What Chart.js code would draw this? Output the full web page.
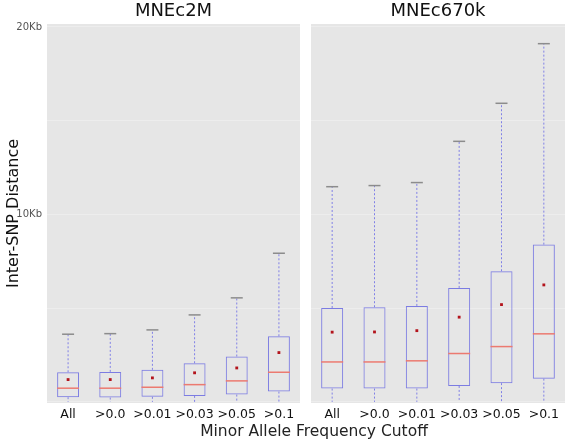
<!DOCTYPE html>
<html>
<head>
<meta charset="utf-8">
<script src="https://cdn.jsdelivr.net/npm/chart.js@4/dist/chart.umd.min.js"></script>
<style>
  body { margin: 0; background: #fff; width: 567px; height: 443px; overflow: hidden; position: relative; }
  .wrap { position: absolute; top: 0; height: 443px; }
  #xTitle { position: absolute; left: 0; width: 628px; top: 422px; text-align: center;
            font-family: "DejaVu Sans", sans-serif; font-size: 15.5px; color: #222; }
</style>
</head>
<body>
<div class="wrap" style="left:0;width:300px"><canvas id="leftChart" width="300" height="443"></canvas></div>
<div class="wrap" style="left:311px;width:254px"><canvas id="rightChart" width="254" height="443"></canvas></div>
<div id="xTitle">Minor Allele Frequency Cutoff</div>
<script>
// categories (MAF cutoff)
const categories = ['All', '>0.0', '>0.01', '>0.03', '>0.05', '>0.1'];
const yTicks = [0, 5000, 10000, 15000, 20000];

// MNEc2M box stats (bp)
const c2mMin    = [0, 0, 0, 0, 0, 0];
const c2mQ1     = [250, 230, 270, 320, 390, 550];
const c2mMedian = [730, 730, 780, 920, 1120, 1580];
const c2mQ3     = [1580, 1600, 1710, 2060, 2420, 3500];
const c2mMax    = [3610, 3640, 3840, 4640, 5550, 7930];
const c2mMean   = [1190, 1190, 1280, 1550, 1810, 2630];

// MNEc670k box stats (bp)
const k670Min    = [0, 0, 0, 0, 0, 0];
const k670Q1     = [710, 710, 710, 850, 1000, 1240];
const k670Median = [2130, 2130, 2190, 2580, 2950, 3630];
const k670Q3     = [5010, 5050, 5120, 6080, 6970, 8390];
const k670Max    = [11480, 11540, 11700, 13900, 15930, 19110];
const k670Mean   = [3720, 3730, 3800, 4520, 5190, 6240];

const FONT = '"DejaVu Sans", sans-serif';

// grey panel background
const panelBg = {
    id: 'panelBg',
    beforeDraw(chart) {
        const a = chart.chartArea, ctx = chart.ctx;
        ctx.save();
        ctx.fillStyle = '#e6e6e6';
        ctx.fillRect(a.left, a.top, a.right - a.left, a.bottom - a.top);
        ctx.restore();
    }
};

// whiskers, caps and medians drawn through the scales
function boxExtras(stats) {
    return {
        id: 'boxExtras',
        afterDatasetsDraw(chart) {
            const ctx = chart.ctx, xs = chart.scales.x, ys = chart.scales.y;
            ctx.save();
            stats.q1.forEach((q1, i) => {
                const x = xs.getPixelForValue(i);
                const bar = chart.getDatasetMeta(0).data[i];
                const half = bar.width / 2;
                // dashed whiskers
                ctx.strokeStyle = '#8080e6';
                ctx.lineWidth = 1;
                ctx.setLineDash([2, 2]);
                ctx.beginPath();
                ctx.moveTo(x, ys.getPixelForValue(stats.q3[i]));
                ctx.lineTo(x, ys.getPixelForValue(stats.max[i]));
                ctx.moveTo(x, ys.getPixelForValue(q1));
                ctx.lineTo(x, ys.getPixelForValue(stats.min[i]));
                ctx.stroke();
                ctx.setLineDash([]);
                // cap
                ctx.strokeStyle = '#8c8c8c';
                ctx.lineWidth = 1.5;
                const yc = ys.getPixelForValue(stats.max[i]);
                ctx.beginPath();
                ctx.moveTo(x - 6, yc);
                ctx.lineTo(x + 6, yc);
                ctx.stroke();
                // median
                ctx.strokeStyle = '#ec7a70';
                ctx.lineWidth = 1.5;
                const ym = ys.getPixelForValue(stats.median[i]);
                ctx.beginPath();
                ctx.moveTo(x - half, ym);
                ctx.lineTo(x + half, ym);
                ctx.stroke();
            });
            ctx.restore();
        }
    };
}

function makeChart(id, title, stats, showAxis) {
    const ctx = document.getElementById(id).getContext('2d');
    return new Chart(ctx, {
        type: 'bar',
        data: {
            labels: categories,
            datasets: [
                {
                    data: stats.q1.map((v, i) => [v, stats.q3[i]]),
                    backgroundColor: 'rgba(0,0,0,0)',
                    borderColor: '#7c7ce2',
                    borderWidth: 1,
                    borderSkipped: false,
                    barPercentage: 0.52,
                    categoryPercentage: 1
                },
                {
                    type: 'line',
                    data: stats.mean,
                    showLine: false,
                    pointStyle: 'rect',
                    pointRadius: 2,
                    pointBackgroundColor: '#b3141c',
                    pointBorderWidth: 0
                }
            ]
        },
        options: {
            responsive: false,
            animation: false,
            layout: { padding: 0, autoPadding: false },
            plugins: {
                legend: { display: false },
                tooltip: { enabled: false },
                title: {
                    display: true,
                    text: title,
                    fullSize: false,
                    color: '#111',
                    font: { family: FONT, size: 18, weight: 'normal', lineHeight: 1.2 },
                    padding: { top: 1, bottom: 1.4 }
                }
            },
            scales: {
                x: {
                    grid: { display: false, drawTicks: false },
                    border: { display: false },
                    ticks: {
                        color: '#111',
                        font: { family: FONT, size: 12.5 },
                        padding: 4,
                        maxRotation: 0,
                        minRotation: 0,
                        autoSkip: false
                    },
                    afterFit(scale) {
                        scale.height = 40;
                        scale.paddingLeft = 0;
                        scale.paddingRight = 0;
                    }
                },
                y: {
                    min: -60,
                    max: 20160,
                    border: { display: false },
                    grid: {
                        drawTicks: false,
                        color: 'rgba(255,255,255,0.3)'
                    },
                    afterBuildTicks(scale) { scale.ticks = yTicks.map(v => ({ value: v })); },
                    ticks: {
                        display: showAxis,
                        color: '#555',
                        padding: 5,
                        font: { family: FONT, size: 10 },
                        callback: v => (v > 0 && v % 10000 === 0) ? (v / 1000) + 'Kb' : ''
                    },
                    title: {
                        display: showAxis,
                        text: 'Inter-SNP Distance',
                        color: '#111',
                        font: { family: FONT, size: 16 },
                        padding: 4
                    },
                    afterFit(scale) {
                        scale.width = showAxis ? 47 : 0;
                        scale.paddingTop = 0;
                        scale.paddingBottom = 0;
                    }
                }
            }
        },
        plugins: [panelBg, boxExtras(stats)]
    });
}

makeChart('leftChart', 'MNEc2M',
    { min: c2mMin, q1: c2mQ1, median: c2mMedian, q3: c2mQ3, max: c2mMax, mean: c2mMean }, true);
makeChart('rightChart', 'MNEc670k',
    { min: k670Min, q1: k670Q1, median: k670Median, q3: k670Q3, max: k670Max, mean: k670Mean }, false);
</script>
</body>
</html>
